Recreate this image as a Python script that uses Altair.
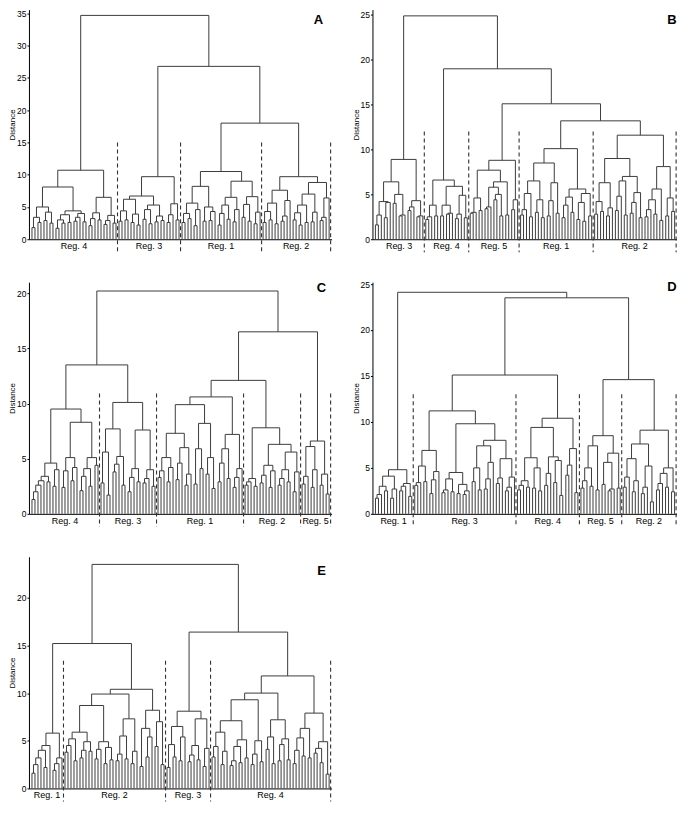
import altair as alt
import pandas as pd

# ---------------------------------------------------------------
# Dendrogram data.
# node = [merge_height, left, right]; a bare number h > 0 is a
# pair of leaves merged at h; 0 is a single leaf.
# ---------------------------------------------------------------

# Panel A
A_R4 = [10.7,
        [8.1,
         [5.0, [3.4, 1.8, 2.6], [4.2, 2.9, 2.5]],
         [4.4, [3.8, [3.0, 1.7, 2.5], 2.6], [4.0, [3.4, 2.8, 0], 2.7]]],
        [6.5, [4.1, [3.2, 2.1, 0], 3.0], [3.7, [2.9, 2.3, 0], 2.5]]]
A_R3 = [9.7,
        [6.7, [6.2, [4.4, 2.8, 3.0], [3.9, 2.6, 2.2]], [5.3, [4.6, 3.1, 2.4], [3.6, 2.7, 2.9]]],
        [5.5, [3.8, 2.6, 0], 3.0]]
A_R1 = [10.5,
        [8.2, [5.6, [4.0, 2.6, 3.2], [4.6, 2.1, 0]], [5.0, 2.8, [4.3, 2.9, 0]]],
        [9.0, [6.5, [5.3, [4.0, 2.2, 0], 3.1], [4.6, 2.7, 0]], [6.6, [5.4, 3.4, 2.8], [4.2, 2.4, 0]]]]
A_R2 = [9.7,
        [7.6, [5.6, [4.3, 2.6, 3.0], 2.4], [6.0, [3.6, 2.8, 0], 0]],
        [8.8, [7.0, [5.3, [4.1, 3.0, 2.2], 2.6], [4.2, 2.7, 0]], [6.4, [3.4, 2.9, 0], 0]]]
A_TREE = [34.7, A_R4, [26.8, A_R3, [18.0, A_R1, A_R2]]]
A_REGIONS = ["Reg. 4", "Reg. 3", "Reg. 1", "Reg. 2"]
A_REGION_TREES = [A_R4, A_R3, A_R1, A_R2]

# Panel B
B_R3 = [8.9, [6.4, [4.2, [2.7, 1.6, 0], [4.1, 2.4, 0]], [5.0, 4.0, [2.7, 2.6, 0]]],
        [4.3, [3.6, 3.2, 0], [2.6, 2.5, 0]]]
B_R4 = [6.6, [3.8, [2.5, 2.2, 0], 2.6],
        [5.9, [3.8, 2.6, [2.9, 2.8, 0]], [4.9, [2.8, 2.3, 0], 2.4]]]
B_R5 = [8.8, [7.7, [4.6, [3.0, 2.9, 0], 3.2],
              [6.4, [5.8, [3.6, 3.4, 0], [5.0, 4.4, 2.6]], 2.7]],
        [4.4, 3.3, 0]]
B_R1 = [10.1,
        [8.5, [6.5, [5.1, [3.3, 2.7, 0], 2.5], [4.4, 3.0, 2.4]], [6.3, [4.3, 2.6, 0], 2.9]],
        [5.6, [4.7, [3.8, 2.4, 0], 3.0], [5.1, [4.1, 2.2, 2.0], 2.6]]]
B_R2 = [11.6,
        [9.0, [6.3, [4.2, 2.8, 3.1], [3.5, 2.6, 0]],
              [7.0, [6.5, [4.8, 3.2, 0], 2.7], [5.2, [4.1, 2.9, 0], 2.4]]],
        [8.1, [5.6, [4.4, [3.3, 2.5, 0], 2.8], 2.1], [4.6, 2.6, 3.1]]]
B_TREE = [24.9, B_R3, [19.0, B_R4, [15.1, B_R5, [13.2, B_R1, B_R2]]]]
B_REGIONS = ["Reg. 3", "Reg. 4", "Reg. 5", "Reg. 1", "Reg. 2"]
B_REGION_TREES = [B_R3, B_R4, B_R5, B_R1, B_R2]

# Panel C
C_R4 = [9.5,
        [4.6, [3.4, [3.0, [2.6, [2.0, 1.3, 0], 0], 0], 2.9], [4.0, 2.5, 0]],
        [8.3, [5.1, [3.9, 2.4, 0], [4.2, 3.0, 0]], [5.1, [4.1, [3.4, 2.1, 0], 2.5], 4.4]]]
C_R3 = [10.1, [7.7, [5.6, 2.8, 1.7], [5.2, [4.5, 3.8, 0], 2.6]],
        [7.6, [4.1, [3.3, 2.0, 0], 2.9], [4.0, [3.2, 2.8, 0], 2.5]]]
C_R1 = [10.6,
        [9.9, [7.3, [5.1, [3.9, 3.3, 0], [4.2, 2.9, 0]], [6.0, [4.6, 3.1, 0], [3.6, 2.6, 0]]],
              [8.2, [5.9, 2.7, 4.1], [5.1, 3.6, 2.3]]],
        [7.2, [5.9, [4.6, 2.9, 0], 3.2], [4.1, [3.3, 2.4, 0], 0]]]
C_R2 = [7.8, [3.2, [2.9, 2.6, 0], 2.5],
        [6.3, [4.4, [3.5, 2.8, 0], [3.9, 2.4, 0]], [5.6, [4.0, [3.2, 2.6, 0], 2.9], [3.8, 2.0, 0]]]]
C_R5 = [6.6, [6.1, [3.4, 2.7, 0], [4.0, 2.4, 0]], [3.6, 2.6, 1.8]]
C_TREE = [20.2, [13.5, C_R4, C_R3], [16.5, [12.1, C_R1, C_R2], C_R5]]
C_REGIONS = ["Reg. 4", "Reg. 3", "Reg. 1", "Reg. 2", "Reg. 5"]
C_REGION_TREES = [C_R4, C_R3, C_R1, C_R2, C_R5]

# Panel D
D_R1 = [4.8, [4.1, [3.0, [2.1, 1.7, 0], 2.5], [2.7, 1.7, 0]], [3.3, [3.0, 2.5, 0], 1.9]]
D_R3 = [11.2,
        [6.9, [5.2, [3.4, 3.1, 0], 3.5], [4.6, [3.7, 2.2, 0], 0]],
        [9.8, [4.5, [3.8, [2.6, 2.3, 0], 2.4], [3.2, 2.2, [2.5, 2.1, 0]]],
              [8.0, [7.4, [5.0, 3.5, 2.6], [5.6, [3.8, 2.7, 0], 0]],
                    [6.0, [3.9, 3.3, 0], [4.0, [2.9, 2.5, 0], 0]]]]]
D_R4 = [10.4, [9.4, [6.1, [3.6, [3.1, 2.6, 0], 2.9], [5.0, 2.8, 2.5]],
                    [6.2, [4.4, 3.1, 0], [5.8, 3.4, 2.0]]],
        [7.1, [5.3, 4.2, 0], 2.3]]
D_R5 = [8.5, [7.4, [5.0, [3.6, 2.8, 0], 3.0], 2.6], [6.6, [5.6, 3.2, [2.7, 2.5, 0]], 2.8]]
D_R2 = [9.1, [7.6, [6.0, [4.0, 2.9, 0], [3.6, 2.4, 0]], [5.2, [2.9, 2.2, 0], 1.3]],
        [5.0, [4.4, [3.3, 2.6, 0], 2.9], 2.4]]
D_TREE = [24.1, D_R1, [23.5, [15.1, D_R3, D_R4], [14.6, D_R5, D_R2]]]
D_REGIONS = ["Reg. 1", "Reg. 3", "Reg. 4", "Reg. 5", "Reg. 2"]
D_REGION_TREES = [D_R1, D_R3, D_R4, D_R5, D_R2]

# Panel E
E_R1 = [5.8, [4.5, [4.0, [3.2, [2.5, 1.6, 0], 0], 2.2], 0], [3.2, [2.6, 1.9, 0], 0]]
E_R2 = [10.4,
        [9.9, [8.7, [5.9, [5.2, [4.5, 3.8, 0], 2.9], [4.9, [4.0, 3.2, 0], 3.9]],
                    [4.9, [4.1, 3.1, 0], [4.3, 2.6, 3.0]]],
              [7.3, [5.5, [3.6, 2.9, 0], 3.1], [3.9, 2.6, 0]]],
        [8.2, [6.3, 2.3, [5.4, 3.3, 0]], [7.0, 4.4, 2.5]]]
E_R3 = [8.1, [6.5, [4.6, 2.2, 3.3], [5.4, 2.9, 0]], [7.3, [4.5, [3.5, 2.8, 0], 3.0], [4.2, 2.3, 0]]]
E_R4 = [11.8,
        [10.0, [9.3, [7.1, [5.9, [4.4, 3.3, 0], [3.9, 2.5, 0]], [5.1, [4.4, [2.9, 2.4, 0], 2.7], 3.2]],
                     [5.0, [3.6, 2.5, 0], 2.8]],
               [7.2, [5.4, 4.1, 2.6], [5.2, [4.6, 2.9, 0], 3.0]]],
        [7.9, [6.3, [5.3, [4.0, 2.6, 0], 3.4], 3.2], [4.9, [4.2, 3.7, 2.7], 1.5]]]
E_TREE = [23.5, [15.2, E_R1, E_R2], [16.4, E_R3, E_R4]]
E_REGIONS = ["Reg. 1", "Reg. 2", "Reg. 3", "Reg. 4"]
E_REGION_TREES = [E_R1, E_R2, E_R3, E_R4]

# axis ranges / ticks / dashed-line tops
Y_MAX = {"A": 35.6, "B": 25.6, "C": 21.0, "D": 25.2, "E": 24.3}
Y_TICKS = {"A": [0, 5, 10, 15, 20, 25, 30, 35], "B": [0, 5, 10, 15, 20, 25],
           "C": [0, 5, 10, 15, 20], "D": [0, 5, 10, 15, 20, 25], "E": [0, 5, 10, 15, 20]}
DASH_TOP = {"A": 15.0, "B": 12.0, "C": 10.9, "D": 13.0, "E": 13.4}


def count_leaves(node):
    if isinstance(node, list):
        return count_leaves(node[1]) + count_leaves(node[2])
    return 1 if node == 0 else 2


def segments(tree):
    segs = []
    pos = [0]

    def leaf():
        pos[0] += 1
        return float(pos[0])

    def rec(node):
        if isinstance(node, list):
            h = float(node[0])
            xa, ha = rec(node[1])
            xb, hb = rec(node[2])
        elif node == 0:
            return leaf(), 0.0
        else:
            h = float(node)
            xa, ha = leaf(), 0.0
            xb, hb = leaf(), 0.0
        segs.append((xa, ha, xa, h))
        segs.append((xb, hb, xb, h))
        segs.append((xa, h, xb, h))
        return (xa + xb) / 2.0, h

    rec(tree)
    return pd.DataFrame(segs, columns=["x", "y", "x2", "y2"]), pos[0]


def panel(key, tree, regions, region_trees, w, h, letter_dx, letter_y):
    df, n = segments(tree)
    xs = alt.Scale(domain=[0, n + 0.8], nice=False, zero=False)
    ys = alt.Scale(domain=[0, Y_MAX[key]], nice=False)
    xaxis = alt.Axis(labels=False, ticks=False, grid=False, title=None,
                     domainColor="black", domainWidth=1)
    yaxis = alt.Axis(values=Y_TICKS[key], title="Distance", grid=False,
                     tickSize=2, tickColor="black", domainColor="black",
                     labelFontSize=8.5, labelColor="black", labelPadding=1,
                     titleFontSize=8, titleFontWeight="normal",
                     titleColor="black", titlePadding=0)
    counts = [count_leaves(t) for t in region_trees]
    ends, centers, start = [], [], 0
    for c in counts:
        ends.append(start + c + 0.5)
        centers.append(start + c / 2.0 + 0.5)
        start += c
    dash_df = pd.DataFrame({"x": ends, "y": [DASH_TOP[key]] * len(regions)})
    lab_df = pd.DataFrame({"label": regions, "x": centers})

    lines = alt.Chart(df).mark_rule(color="#3c3c3c", strokeWidth=1).encode(
        x=alt.X("x:Q", scale=xs, axis=xaxis),
        x2="x2:Q",
        y=alt.Y("y:Q", scale=ys, axis=yaxis),
        y2="y2:Q",
    )
    dashes = alt.Chart(dash_df).mark_rule(strokeDash=[4, 3], color="#333333",
                                          strokeWidth=1.1).encode(
        x=alt.X("x:Q", scale=xs, axis=xaxis),
        y=alt.Y("y:Q", scale=ys, axis=yaxis),
        y2=alt.value(h + 13),
    )
    labels = alt.Chart(lab_df).mark_text(fontSize=9, baseline="middle",
                                         color="black").encode(
        x=alt.X("x:Q", scale=xs, axis=xaxis),
        y=alt.value(h + 7),
        text="label:N",
    )
    letter = alt.Chart(pd.DataFrame({"t": [key]})).mark_text(
        fontSize=13, fontWeight="bold", align="center", baseline="middle",
        color="black").encode(
        x=alt.value(w - letter_dx), y=alt.value(letter_y), text="t:N")
    return alt.layer(lines, dashes, labels, letter).properties(width=w, height=h)


LEFT_W, RIGHT_W = 303, 305
pA = panel("A", A_TREE, A_REGIONS, A_REGION_TREES, LEFT_W, 230, 13, 10)
pB = panel("B", B_TREE, B_REGIONS, B_REGION_TREES, RIGHT_W, 230, 5, 10)
pC = panel("C", C_TREE, C_REGIONS, C_REGION_TREES, LEFT_W, 232, 10, 6)
pD = panel("D", D_TREE, D_REGIONS, D_REGION_TREES, RIGHT_W, 232, 5, 5)
pE = panel("E", E_TREE, E_REGIONS, E_REGION_TREES, LEFT_W, 232, 10, 14)

chart = alt.concat(
    pA, pB, pC, pD, pE, columns=2,
    spacing={"row": 43, "column": 41}, bounds="flush",
).properties(
    padding={"left": 0, "top": 0, "right": 0, "bottom": 0}
).configure(font="Liberation Sans").configure_view(stroke=None)

chart.save("out.html", embed_options={"renderer": "svg", "actions": False})
